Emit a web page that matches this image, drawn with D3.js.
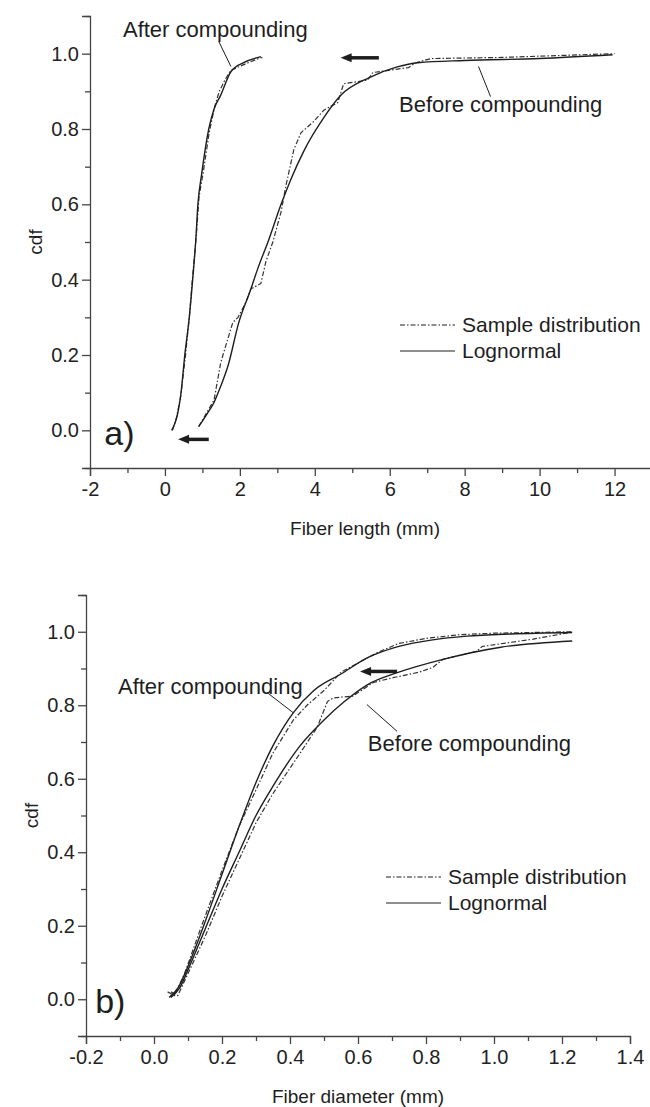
<!DOCTYPE html>
<html>
<head>
<meta charset="utf-8">
<script src="https://cdn.jsdelivr.net/npm/d3@7"></script>
<style>
  body { margin: 0; background: #fff; }
  svg { display: block; font-family: 'Liberation Sans', Arial, sans-serif; }
  .axis path, .axis line { stroke: #444; stroke-width: 1.3; }
  .axis text { fill: #222; font-size: 20px; font-family: 'Liberation Sans', Arial, sans-serif; }
</style>
</head>
<body>
<svg id="chart" width="650" height="1107"></svg>
<script>
// ---- panel a) fiber length ----
const lenAfterLogn = [
  [0.18, 0.0], [0.25, 0.015], [0.33, 0.04], [0.43, 0.10], [0.53, 0.20], [0.65, 0.30],
  [0.74, 0.40], [0.82, 0.50], [0.88, 0.60], [0.98, 0.68], [1.17, 0.80], [1.3, 0.85],
  [1.49, 0.89], [1.76, 0.952], [2.1, 0.976], [2.56, 0.992]
]
const lenAfterSample = [
  [0.2, 0.0], [0.3, 0.03], [0.42, 0.09], [0.55, 0.2], [0.66, 0.31], [0.74, 0.41],
  [0.84, 0.52], [0.91, 0.62], [1.03, 0.69], [1.18, 0.79], [1.33, 0.86], [1.45, 0.9],
  [1.6, 0.93], [1.75, 0.955], [1.9, 0.962], [2.2, 0.975], [2.5, 0.987], [2.6, 0.99]
]
const lenBeforeLogn = [
  [0.9, 0.01], [1.1, 0.04], [1.31, 0.074], [1.5, 0.12], [1.68, 0.17], [1.97, 0.286],
  [2.29, 0.374], [2.48, 0.43], [2.75, 0.50], [3.1, 0.60], [3.36, 0.666], [3.7, 0.74],
  [4.24, 0.83], [4.7, 0.89], [5.44, 0.936], [6.2, 0.965], [6.75, 0.976], [8, 0.982],
  [10, 0.987], [11.95, 0.997]
]
const lenBeforeSample = [
  [0.9, 0.01], [1.31, 0.08], [1.49, 0.18], [1.57, 0.207], [1.81, 0.286], [1.95, 0.30],
  [2.16, 0.34], [2.29, 0.375], [2.56, 0.39], [2.7, 0.45], [2.88, 0.50], [3.1, 0.58],
  [3.23, 0.65], [3.44, 0.745], [3.63, 0.79], [3.97, 0.82], [4.24, 0.85], [4.61, 0.87],
  [4.77, 0.92], [5.41, 0.93], [5.55, 0.95], [6.5, 0.963], [6.7, 0.976], [7.1, 0.987],
  [9, 0.99], [12, 1.0]
]
const lenXTicks = [-2, 0, 2, 4, 6, 8, 10, 12]
const lenXMinor = [-1, 1, 3, 5, 7, 9, 11, 13]

// ---- panel b) fiber diameter ----
const diaAfterLogn = [
  [0.045, 0.005], [0.07, 0.03], [0.1, 0.09], [0.15, 0.21], [0.2, 0.34], [0.25, 0.47],
  [0.3, 0.59], [0.35, 0.69], [0.41, 0.78], [0.47, 0.84], [0.55, 0.885], [0.63, 0.93],
  [0.72, 0.96], [0.82, 0.978], [0.92, 0.988], [1.05, 0.994], [1.23, 0.998]
]
const diaAfterSample = [
  [0.04, 0.02], [0.06, 0.01], [0.09, 0.07], [0.14, 0.2], [0.2, 0.35], [0.25, 0.47],
  [0.3, 0.57], [0.35, 0.67], [0.41, 0.76], [0.45, 0.8], [0.5, 0.84], [0.55, 0.89],
  [0.6, 0.915], [0.66, 0.945], [0.72, 0.968], [0.8, 0.982], [0.9, 0.992], [1.0, 0.996],
  [1.23, 1.0]
]
const diaBeforeLogn = [
  [0.05, 0.005], [0.075, 0.03], [0.1, 0.08], [0.15, 0.19], [0.2, 0.3], [0.25, 0.4],
  [0.3, 0.5], [0.35, 0.58], [0.43, 0.69], [0.5, 0.76], [0.56, 0.81], [0.626, 0.855],
  [0.72, 0.89], [0.85, 0.925], [1.02, 0.958], [1.23, 0.975]
]
const diaBeforeSample = [
  [0.05, 0.02], [0.07, 0.01], [0.1, 0.07], [0.15, 0.17], [0.2, 0.28], [0.25, 0.38],
  [0.3, 0.48], [0.35, 0.56], [0.43, 0.67], [0.48, 0.74], [0.51, 0.81], [0.527, 0.82],
  [0.585, 0.825], [0.645, 0.862], [0.703, 0.875], [0.78, 0.89], [0.82, 0.903],
  [0.85, 0.925], [0.95, 0.947], [0.965, 0.96], [1.115, 0.98], [1.23, 0.999]
]
const diaXTicks = [-0.2, 0, 0.2, 0.4, 0.6, 0.8, 1.0, 1.2, 1.4]
const diaXMinor = [-0.1, 0.1, 0.3, 0.5, 0.7, 0.9, 1.1, 1.3]

const yTicks = [0, 0.2, 0.4, 0.6, 0.8, 1.0]
const yMinor = [-0.1, 0.1, 0.3, 0.5, 0.7, 0.9, 1.1]

const svg = d3.select('#chart')
const INK = '#1e1e1e'
const DASH = '5,2,1.5,2'

function panel(cfg) {
  const x = d3.scaleLinear().domain(cfg.xDomain).range(cfg.xRange)
  const y = d3.scaleLinear().domain([-0.1, 1.1]).range(cfg.yRange)
  const g = svg.append('g')

  // axes: major labelled ticks + short minor ticks
  g.append('g').attr('class', 'axis')
    .attr('transform', `translate(${cfg.xRange[0]},0)`)
    .call(d3.axisLeft(y).tickValues(yTicks).tickSize(8).tickPadding(3).tickFormat(d3.format('.1f')))
  g.append('g').attr('class', 'axis')
    .attr('transform', `translate(${cfg.xRange[0]},0)`)
    .call(d3.axisLeft(y).tickValues(yMinor).tickSize(5).tickFormat(''))
    .select('.domain').remove()
  g.append('g').attr('class', 'axis')
    .attr('transform', `translate(0,${cfg.yRange[0]})`)
    .call(d3.axisBottom(x).tickValues(cfg.xTicks).tickSize(8).tickPadding(6).tickFormat(cfg.xFmt))
  g.append('g').attr('class', 'axis')
    .attr('transform', `translate(0,${cfg.yRange[0]})`)
    .call(d3.axisBottom(x).tickValues(cfg.xMinor).tickSize(5).tickFormat(''))
    .select('.domain').remove()

  g.append('text')
    .attr('x', (cfg.xRange[0] + cfg.xTitleX)).attr('y', cfg.yRange[0] + 67)
    .attr('text-anchor', 'middle').attr('font-size', '19px').attr('fill', INK)
    .text(cfg.xTitle)
  g.append('text')
    .attr('transform', `translate(${cfg.xRange[0] - 48},${y(0.5)}) rotate(-90)`)
    .attr('text-anchor', 'middle').attr('font-size', '19px').attr('fill', INK)
    .text('cdf')

  const line = d3.line().x(d => x(d[0])).y(d => y(d[1]))
  const smooth = d3.line().x(d => x(d[0])).y(d => y(d[1])).curve(d3.curveMonotoneX)

  for (const s of cfg.samples) {
    g.append('path').datum(s)
      .attr('d', line).attr('fill', 'none')
      .attr('stroke', '#333').attr('stroke-width', 1.2).attr('stroke-dasharray', DASH)
  }
  for (const s of cfg.logns) {
    g.append('path').datum(s)
      .attr('d', smooth).attr('fill', 'none')
      .attr('stroke', INK).attr('stroke-width', 1.4)
  }

  // annotations
  for (const a of cfg.notes) {
    g.append('text')
      .attr('x', x(a.tx)).attr('y', y(a.ty))
      .attr('font-size', '22px').attr('fill', INK)
      .text(a.text)
    g.append('line')
      .attr('x1', x(a.l[0])).attr('y1', y(a.l[1]))
      .attr('x2', x(a.l[2])).attr('y2', y(a.l[3]))
      .attr('stroke', INK).attr('stroke-width', 1)
  }
  // left-pointing arrows: [tip, tail, y]
  for (const a of cfg.arrows) {
    const tip = x(a[0]), tail = x(a[1]), ay = y(a[2])
    g.append('line')
      .attr('x1', tail).attr('y1', ay).attr('x2', tip + 9).attr('y2', ay)
      .attr('stroke', INK).attr('stroke-width', 3.5)
    g.append('path')
      .attr('d', `M${tip},${ay}L${tip + 11},${ay - 4.5}L${tip + 11},${ay + 4.5}Z`)
      .attr('fill', INK)
  }

  g.append('text')
    .attr('x', x(cfg.tag[0])).attr('y', y(cfg.tag[1]))
    .attr('font-size', '34px').attr('fill', INK)
    .text(cfg.tag[2])

  // legend
  const lg = g.append('g').attr('transform', `translate(${cfg.legend[0]},${cfg.legend[1]})`)
  const items = [['Sample distribution', DASH], ['Lognormal', null]]
  items.forEach(([label, dash], i) => {
    const ly = i * 26
    lg.append('line').attr('x1', 0).attr('x2', 55).attr('y1', ly).attr('y2', ly)
      .attr('stroke', INK).attr('stroke-width', 1.2)
      .attr('stroke-dasharray', dash)
    lg.append('text').attr('x', 62).attr('y', ly).attr('dy', '0.35em')
      .attr('font-size', '21px').attr('fill', INK).text(label)
  })
}

panel({
  xDomain: [-2, 13], xRange: [90, 652], yRange: [468, 16],
  xTicks: lenXTicks, xMinor: lenXMinor, xFmt: d => String(d),
  xTitle: 'Fiber length (mm)', xTitleX: 275,
  samples: [lenAfterSample, lenBeforeSample],
  logns: [lenAfterLogn, lenBeforeLogn],
  notes: [
    { text: 'After compounding', tx: -1.12, ty: 1.045, l: [1.44, 1.032, 1.76, 0.966] },
    { text: 'Before compounding', tx: 6.25, ty: 0.845, l: [8.37, 0.966, 8.69, 0.886] }
  ],
  arrows: [[4.69, 5.71, 0.989], [0.35, 1.17, -0.024]],
  tag: [-1.62, -0.04, 'a)'],
  legend: [400, 325]
})

panel({
  xDomain: [-0.2, 1.4], xRange: [86, 630], yRange: [1036, 595],
  xTicks: diaXTicks, xMinor: diaXMinor, xFmt: d => d.toFixed(1),
  xTitle: 'Fiber diameter (mm)', xTitleX: 272,
  samples: [diaAfterSample, diaBeforeSample],
  logns: [diaAfterLogn, diaBeforeLogn],
  notes: [
    { text: 'After compounding', tx: -0.106, ty: 0.83, l: [0.332, 0.835, 0.409, 0.78] },
    { text: 'Before compounding', tx: 0.629, ty: 0.675, l: [0.626, 0.802, 0.715, 0.729] }
  ],
  arrows: [[0.606, 0.715, 0.892]],
  tag: [-0.173, -0.038, 'b)'],
  legend: [386, 877]
})
</script>
</body>
</html>
